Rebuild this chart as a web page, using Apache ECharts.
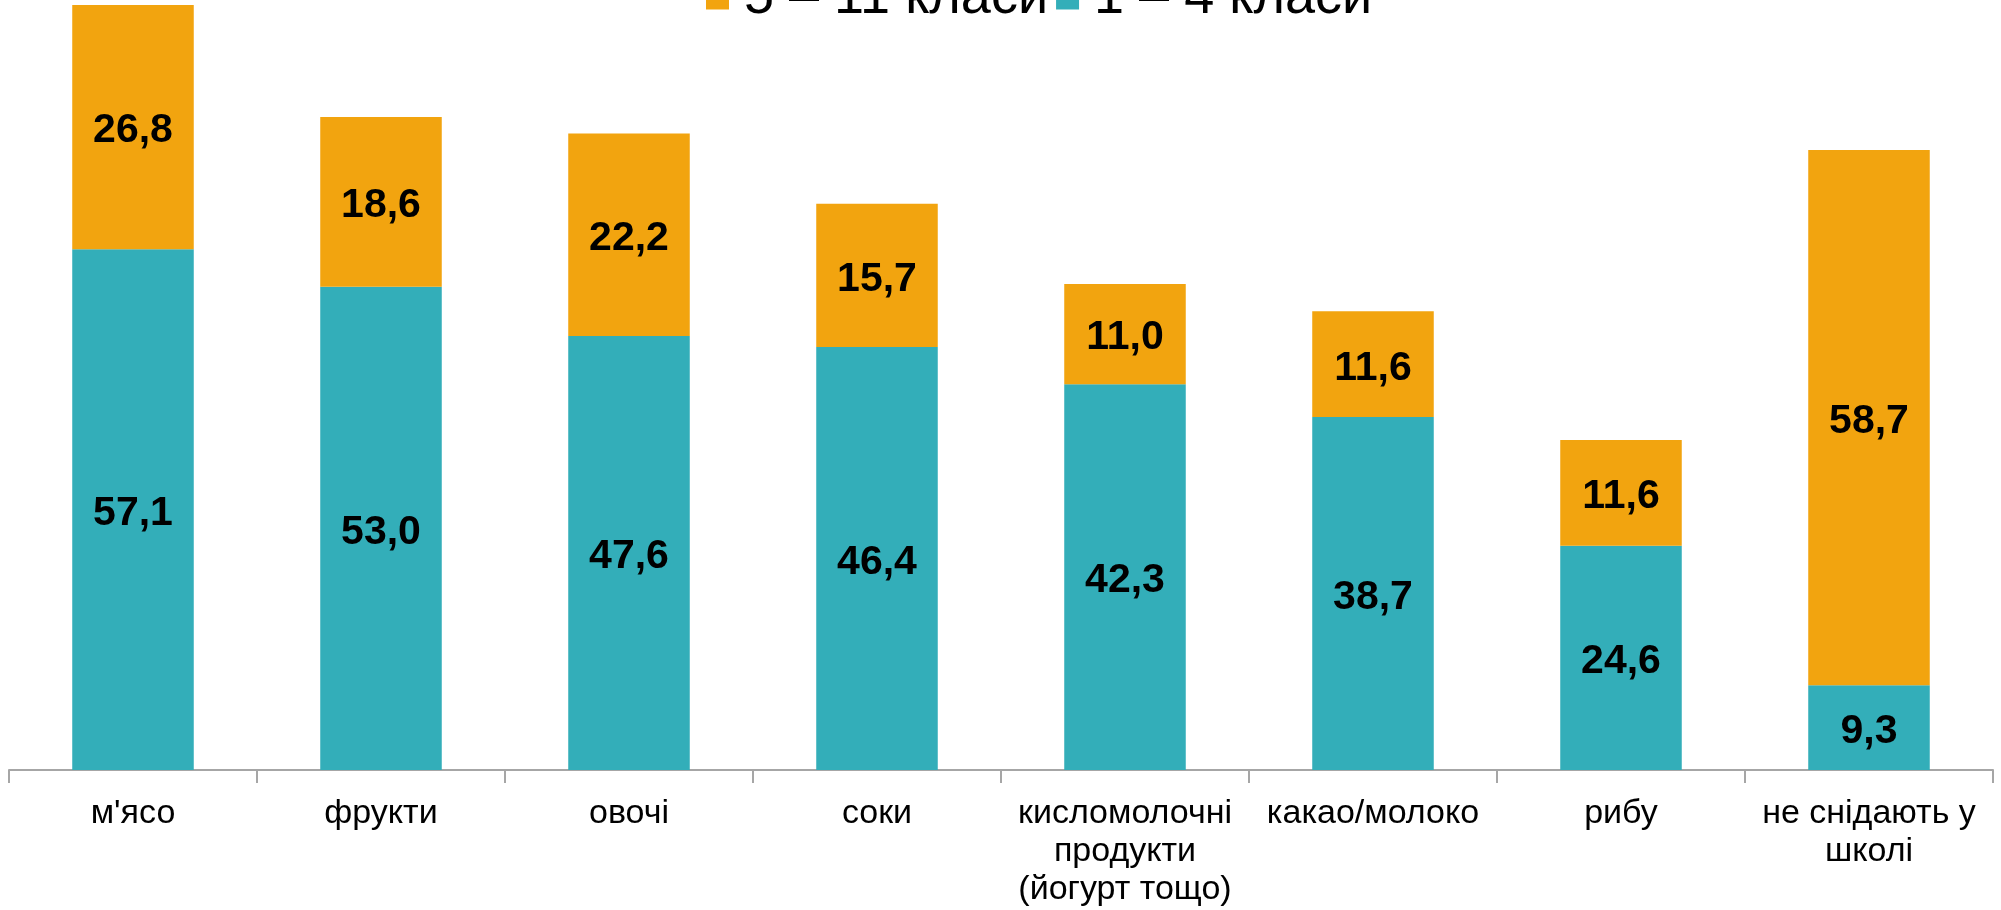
<!DOCTYPE html>
<html>
<head>
<meta charset="utf-8">
<script src="https://cdn.jsdelivr.net/npm/echarts@6/dist/echarts.min.js"></script>
<style>
html,body{margin:0;padding:0;background:#fff;}
#chart{width:2001px;height:910px;}
</style>
</head>
<body>
<div id="chart"></div>
<script>
const categories = ["м'ясо", "фрукти", "овочі", "соки", "кисломолочні\nпродукти\n(йогурт тощо)", "какао/молоко", "рибу", "не снідають у\nшколі"];
const seriesNames = ["1 – 4 класи", "5 – 11 класи"];
const grades1to4 = [57.1, 53.0, 47.6, 46.4, 42.3, 38.7, 24.6, 9.3];
const grades5to11 = [26.8, 18.6, 22.2, 15.7, 11.0, 11.6, 11.6, 58.7];

const chart = echarts.init(document.getElementById('chart'));
const fmt = p => p.value.toFixed(1).replace('.', ',');
const labelStyle = {
  show: true, position: 'inside', formatter: fmt, offset: [0, 4],
  color: '#000', fontFamily: 'Liberation Sans', fontWeight: 'bold', fontSize: 41
};
chart.setOption({
  animation: false,
  backgroundColor: '#fff',
  legend: {
    data: [seriesNames[1], seriesNames[0]],
    left: 701, top: -34,
    itemWidth: 23, itemHeight: 23, itemGap: 8,
    icon: 'rect',
    textStyle: {fontFamily: 'Liberation Sans', fontSize: 54, color: '#000', lineHeight: 54, padding: [0, 0, 0, 10]}
  },
  grid: {left: 9, right: 8, top: 4, bottom: 140, containLabel: false},
  xAxis: {
    type: 'category', data: categories,
    axisLine: {lineStyle: {color: '#A6A6A6', width: 2}},
    axisTick: {show: true, length: 13, lineStyle: {color: '#A6A6A6', width: 2}},
    axisLabel: {
      interval: 0, margin: 25, color: '#000',
      fontFamily: 'Liberation Sans', fontSize: 34, lineHeight: 38
    }
  },
  yAxis: {type: 'value', min: 0, max: 84, show: false, splitLine: {show: false}},
  series: [
    {name: seriesNames[0], type: 'bar', stack: 'a', data: grades1to4, barWidth: '49%',
     itemStyle: {color: '#33AEB9'}, label: labelStyle},
    {name: seriesNames[1], type: 'bar', stack: 'a', data: grades5to11, barWidth: '49%',
     itemStyle: {color: '#F2A40F'}, label: labelStyle}
  ]
});
</script>
</body>
</html>
